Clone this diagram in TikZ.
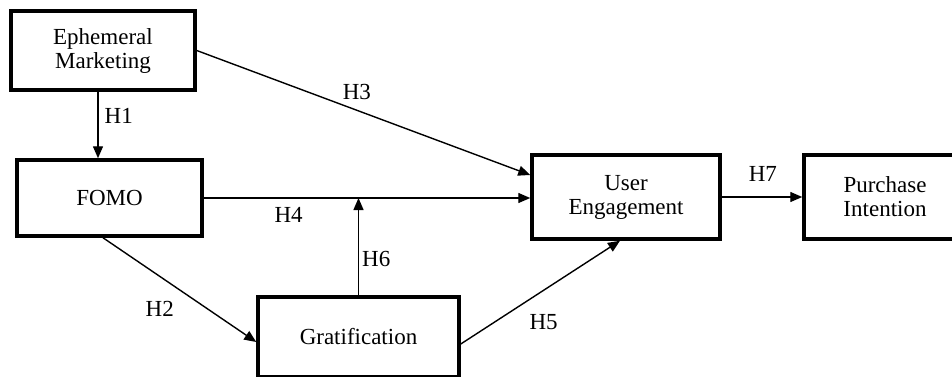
\documentclass[tikz,border=0pt]{standalone}
\usepackage{fontspec}
\setmainfont{Liberation Serif}
\usetikzlibrary{arrows.meta}
\usetikzlibrary{positioning}

\begin{document}
\begin{tikzpicture}[x=1pt,y=-1pt,->,>={Triangle[length=12pt,width=10pt]},
	line width=1.4pt,
	main node/.style={rectangle,draw,line width=3.5pt,align=center,inner sep=0pt,
		font=\fontsize{23}{24}\selectfont},
	hyp node/.style={font=\fontsize{23}{24}\selectfont,inner sep=2pt}]
	
	\useasboundingbox (0,0) rectangle (952,376);
	
	\node[main node, minimum width=184pt, minimum height=79pt] (em) at (103,50.5) {Ephemeral\\Marketing};
	\node[main node, minimum width=185pt, minimum height=76pt] (fomo) at (109.5,198) {FOMO};
	\node[main node, minimum width=201pt, minimum height=80pt] (grat) at (358.5,337) {Gratification};
	\node[main node, minimum width=188pt, minimum height=84pt] (ue) at (626,197) {User\\Engagement};
	\node[main node, minimum width=162pt, minimum height=84pt] (pi) at (885,197) {Purchase\\Intention};
	
	\path[every node/.style={hyp node}]
	([xshift=-5pt]em.south) edge node [pos=0.37, right=4pt] {H1} ([xshift=-5pt]em.south |- fomo.north)
	(em.east) edge node [pos=0.48, above=7.4pt] {H3} ([yshift=22pt]ue.west)
	(fomo.east) edge node [pos=0.26, below=6.5pt] {H4} (fomo.east -| ue.west)
	(grat.north) edge node [pos=0.37, right=1pt] {H6} (grat.north |- fomo.east)
	([xshift=-6.5pt]fomo.south) edge node [pos=0.37, below=22.4pt] {H2} ([yshift=-5pt]grat.west)
	([yshift=-7pt]grat.east) edge node [pos=0.52, below=21pt] {H5} ([xshift=-6pt]ue.south)
	(ue.east) edge node [pos=0.51, above=12.4pt] {H7} (pi.west);
\end{tikzpicture}
\end{document}
